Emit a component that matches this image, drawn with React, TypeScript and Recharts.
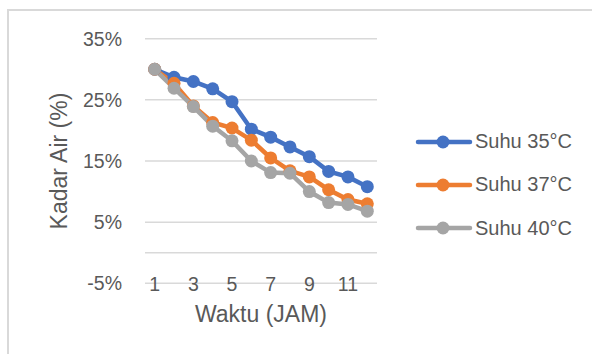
import React from 'react';
import { LineChart, Line, XAxis, YAxis, CartesianGrid } from 'recharts';

// Waktu (jam) dan kadar air (%) untuk tiap suhu
const jam = [1, 2, 3, 4, 5, 6, 7, 8, 9, 10, 11, 12];
const suhu35 = [30.0, 28.7, 28.0, 26.8, 24.7, 20.2, 18.9, 17.3, 15.7, 13.3, 12.4, 10.8];
const suhu37 = [30.0, 27.7, 24.0, 21.3, 20.4, 18.4, 15.5, 13.4, 12.4, 10.3, 8.7, 8.0];
const suhu40 = [30.0, 26.9, 23.9, 20.7, 18.3, 15.0, 13.1, 13.0, 10.0, 8.2, 7.9, 6.8];
const yTicks = [-5, 5, 15, 25, 35];
const axisCross = [0]; // garis sumbu x memotong di 0%

const series = [
  { key: 's35', name: 'Suhu 35°C', color: '#4472C4' },
  { key: 's37', name: 'Suhu 37°C', color: '#ED7D31' },
  { key: 's40', name: 'Suhu 40°C', color: '#A5A5A5' },
];

const data = jam.map((j, i) => ({ jam: j, s35: suhu35[i], s37: suhu37[i], s40: suhu40[i] }));

const FONT = '"Liberation Sans", Arial, sans-serif';
const TEXT = '#595959';

// legend drawn outside the chart so it doesn't eat plot space
const LegendBox = () => (
  <div style={{ position: 'absolute', left: 414, top: 120, fontFamily: FONT, fontSize: 20, color: TEXT }}>
    {series.map((s) => (
      <div key={s.key} style={{ display: 'flex', alignItems: 'center', height: 43.3 }}>
        <svg width={60} height={16} style={{ display: 'block' }}>
          <line x1={4} y1={8} x2={56} y2={8} stroke={s.color} strokeWidth={4.5} strokeLinecap="round" />
          <circle cx={29} cy={8} r={6.5} fill={s.color} />
        </svg>
        <span style={{ marginLeft: 1 }}>{s.name}</span>
      </div>
    ))}
  </div>
);

export default function App() {
  return (
    <div style={{ position: 'absolute', left: 0, top: 0, width: 592, height: 354, overflow: 'hidden', background: '#fff' }}>
      <div
        style={{
          position: 'absolute',
          left: 7,
          top: 9,
          width: 800,
          height: 600,
          borderLeft: '2px solid #d9d9d9',
          borderTop: '2px solid #d9d9d9',
        }}
      />
      <div style={{ position: 'absolute', left: 0, top: 0 }}>
        <LineChart width={592} height={354} data={data} margin={{ top: 38.7, right: 215, bottom: 50.7, left: 0 }}>
          <CartesianGrid vertical={false} stroke="#d9d9d9" strokeWidth={1.5} />
          <CartesianGrid vertical={false} stroke="#d9d9d9" strokeWidth={1.5} horizontalValues={axisCross} />
          <XAxis
            dataKey="jam"
            type="category"
            interval={1}
            height={20}
            padding={{ left: 9.7, right: 9.7 }}
            axisLine={false}
            tickLine={false}
            tickSize={0}
            tickMargin={-6}
            tick={{ fill: TEXT, fontSize: 19.5, fontFamily: FONT }}
            label={{ value: 'Waktu (JAM)', position: 'bottom', offset: 2, fill: TEXT, fontSize: 23, fontFamily: FONT }}
          />
          <YAxis
            width={145}
            domain={[-5, 35]}
            ticks={yTicks}
            tickFormatter={(v) => `${v}%`}
            axisLine={false}
            tickLine={false}
            tickSize={0}
            tickMargin={23}
            tick={{ fill: TEXT, fontSize: 19.5, fontFamily: FONT }}
            label={{
              content: (props: any) => {
                const vb = props.viewBox || { y: 38.7, height: 244.6 };
                const cy = vb.y + vb.height / 2;
                return (
                  <text
                    x={67}
                    y={cy}
                    transform={`rotate(-90, 67, ${cy})`}
                    textAnchor="middle"
                    fill={TEXT}
                    fontSize={23}
                    fontFamily={FONT}
                  >
                    Kadar Air (%)
                  </text>
                );
              },
            }}
          />
          {series.map((s) => (
            <Line
              key={s.key}
              dataKey={s.key}
              name={s.name}
              stroke={s.color}
              strokeWidth={4.5}
              dot={{ r: 6.5, fill: s.color, stroke: s.color, strokeWidth: 0 }}
              activeDot={false}
              isAnimationActive={false}
            />
          ))}
        </LineChart>
      </div>
      <LegendBox />
    </div>
  );
}
